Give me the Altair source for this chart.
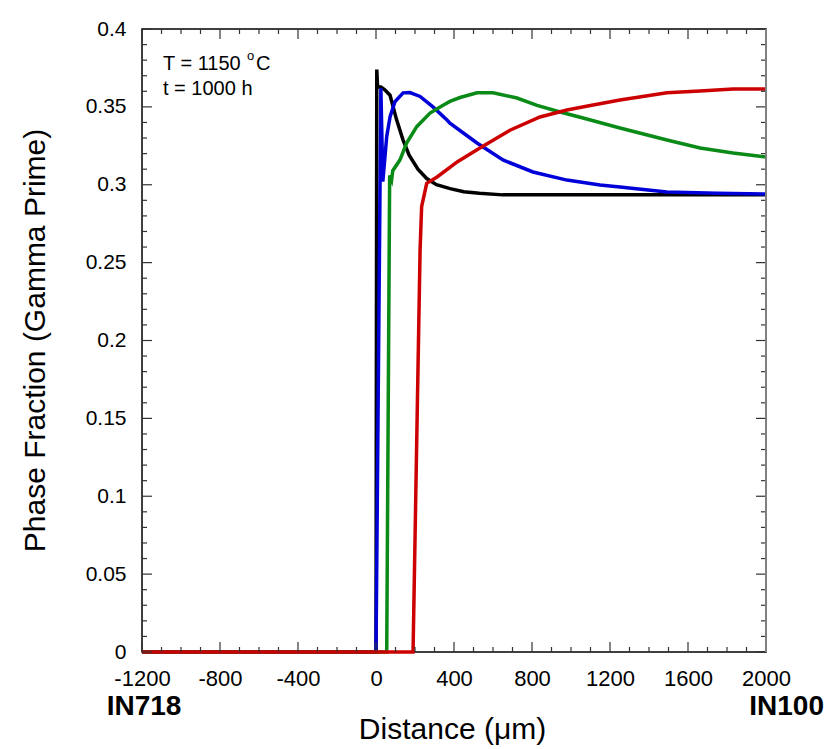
import altair as alt
import pandas as pd

# ---------------- data ----------------
black_x = [-1200, 0, 4, 8, 25, 45, 72, 105, 138, 170, 215, 260, 310, 380, 450, 530, 650, 2000]
black_y = [0, 0, 0.374, 0.363, 0.3628, 0.361, 0.3575, 0.342, 0.329, 0.319, 0.310, 0.304,
           0.300, 0.2975, 0.2955, 0.2945, 0.2935, 0.2935]

blue_x = [-1200, 0, 25, 35, 55, 72, 97, 139, 174, 226, 292, 364, 379, 518, 651, 805, 979,
          1149, 1251, 1492, 1750, 2000]
blue_y = [0, 0, 0.362, 0.302, 0.331, 0.3436, 0.3533, 0.359, 0.3592, 0.3567, 0.350, 0.3416,
          0.3396, 0.3268, 0.3159, 0.3082, 0.303, 0.2998, 0.2986, 0.2953, 0.2945, 0.294]

green_x = [-1200, 55, 70, 80, 86, 123, 157, 209, 277, 344, 379, 431, 518, 600, 723, 826, 944,
           1062, 1251, 1492, 1662, 1831, 2000]
green_y = [0, 0, 0.306, 0.303, 0.309, 0.316, 0.3268, 0.3373, 0.346, 0.351, 0.3535, 0.356,
           0.359, 0.359, 0.3557, 0.351, 0.3467, 0.3429, 0.3364, 0.3287, 0.3236, 0.3204, 0.3178]

red_x = [-1200, 190, 226, 234, 260, 313, 420, 533, 687, 841, 979, 1113, 1251, 1492, 1662,
         1831, 2000]
red_y = [0, 0, 0.258, 0.2859, 0.3009, 0.305, 0.315, 0.3236, 0.335, 0.3435, 0.348, 0.3512,
         0.3544, 0.359, 0.3602, 0.3615, 0.3615]

series_names = ["black", "blue", "green", "red"]
series_colors = ["#000000", "#0000d8", "#0a8a16", "#cc0000"]
series_x = [black_x, blue_x, green_x, red_x]
series_y = [black_y, blue_y, green_y, red_y]

x_major = [-1200, -800, -400, 0, 400, 800, 1200, 1600, 2000]
x_minor = [-1100, -1000, -900, -700, -600, -500, -300, -200, -100, 100, 200, 300, 500, 600,
           700, 900, 1000, 1100, 1300, 1400, 1500, 1700, 1800, 1900]
y_major = [0, 0.05, 0.1, 0.15, 0.2, 0.25, 0.3, 0.35, 0.4]
y_minor = [0.01, 0.02, 0.03, 0.04, 0.06, 0.07, 0.08, 0.09, 0.11, 0.12, 0.13, 0.14, 0.16, 0.17,
           0.18, 0.19, 0.21, 0.22, 0.23, 0.24, 0.26, 0.27, 0.28, 0.29, 0.31, 0.32, 0.33, 0.34,
           0.36, 0.37, 0.38, 0.39]

x_title = "Distance (\u03bcm)"
y_title = "Phase Fraction (Gamma Prime)"
ann_line1 = "T = 1150"
ann_sup = "o"
ann_unit = "C"
ann_line2 = "t = 1000 h"
left_label = "IN718"
right_label = "IN100"

# ---------------- chart ----------------
W, H = 624, 623
FONT = "Liberation Sans"
xs = alt.Scale(domain=[-1200, 2000], nice=False, zero=False)
ys = alt.Scale(domain=[0, 0.4], nice=False, zero=False)

x_axis = alt.Axis(
    values=x_major, ticks=False, domain=False, grid=False, labelExpr="datum.value + ''",
    labelFlush=False, labelOverlap=False,
    labelFont=FONT, labelFontSize=22, labelColor="black", labelPadding=16,
    titleFont=FONT, titleFontSize=30, titleFontWeight="normal", titleColor="black",
    titleX=310, titleY=86, titleBaseline="alphabetic", titleAlign="center",
)
y_axis = alt.Axis(
    values=y_major, ticks=False, domain=False, grid=False, format=".2~f",
    labelFlush=False, labelOverlap=False,
    labelFont=FONT, labelFontSize=21, labelColor="black", labelPadding=16,
    titleFont=FONT, titleFontSize=30, titleFontWeight="normal", titleColor="black",
    titleX=-107, titleY=311, titleBaseline="middle", titleAlign="center", titleAngle=270,
)


def X(field):
    return alt.X(field, scale=xs, axis=x_axis, title=x_title)


def Y(field):
    return alt.Y(field, scale=ys, axis=y_axis, title=y_title)


layers = []

# series lines (with axes)
for name, xv, yv, col in zip(series_names, series_x, series_y, series_colors):
    df = pd.DataFrame({"x": xv, "y": yv, "i": list(range(len(xv)))})
    layers.append(
        alt.Chart(df).mark_line(color=col, strokeWidth=3.5).encode(
            x=X("x:Q"), y=Y("y:Q"), order="i:Q",
        )
    )


def tick_layer(vals, side, length, axis_dim):
    df = pd.DataFrame({"v": vals})
    base = alt.Chart(df).mark_rule(color="#333333", strokeWidth=1.2)
    if axis_dim == "x":
        if side == "bottom":
            return base.encode(x=X("v:Q"), y=alt.value(H), y2=alt.value(H - length))
        return base.encode(x=X("v:Q"), y=alt.value(0), y2=alt.value(length))
    if side == "left":
        return base.encode(y=Y("v:Q"), x=alt.value(0), x2=alt.value(length))
    return base.encode(y=Y("v:Q"), x=alt.value(W), x2=alt.value(W - length))


for side in ["bottom", "top"]:
    layers.append(tick_layer(x_major, side, 10, "x"))
    layers.append(tick_layer(x_minor, side, 5, "x"))
for side in ["left", "right"]:
    layers.append(tick_layer(y_major, side, 10, "y"))
    layers.append(tick_layer(y_minor, side, 5, "y"))

# gray right border
layers.append(
    alt.Chart(pd.DataFrame({"a": [0]})).mark_rule(color="#808080", strokeWidth=2).encode(
        x=alt.value(W), y=alt.value(0), y2=alt.value(H)
    )
)


def text_layer(txt, x, y, size, align="left", weight="normal"):
    return alt.Chart(pd.DataFrame({"t": [txt]})).mark_text(
        font=FONT, fontSize=size, fontWeight=weight, align=align, baseline="alphabetic",
        color="black",
    ).encode(text="t:N", x=alt.value(x), y=alt.value(y))


layers.append(text_layer(ann_line1, 21, 41, 20))
layers.append(text_layer(ann_sup, 105, 31, 13))
layers.append(text_layer(ann_unit, 114, 41, 20))
layers.append(text_layer(ann_line2, 21, 66, 20))
layers.append(text_layer(left_label, 2, 686, 28, align="center", weight="bold"))
layers.append(text_layer(right_label, 682, 686, 28, align="right", weight="bold"))

chart = (
    alt.layer(*layers)
    .properties(
        width=W,
        height=H,
        autosize=alt.AutoSizeParams(type="none"),
        padding={"left": 134, "top": 21, "right": 60, "bottom": 95},
        background="white",
    )
    .configure_view(stroke="black", strokeWidth=1.5)
)

chart.save("out.html", embed_options={"renderer": "svg", "actions": False})
